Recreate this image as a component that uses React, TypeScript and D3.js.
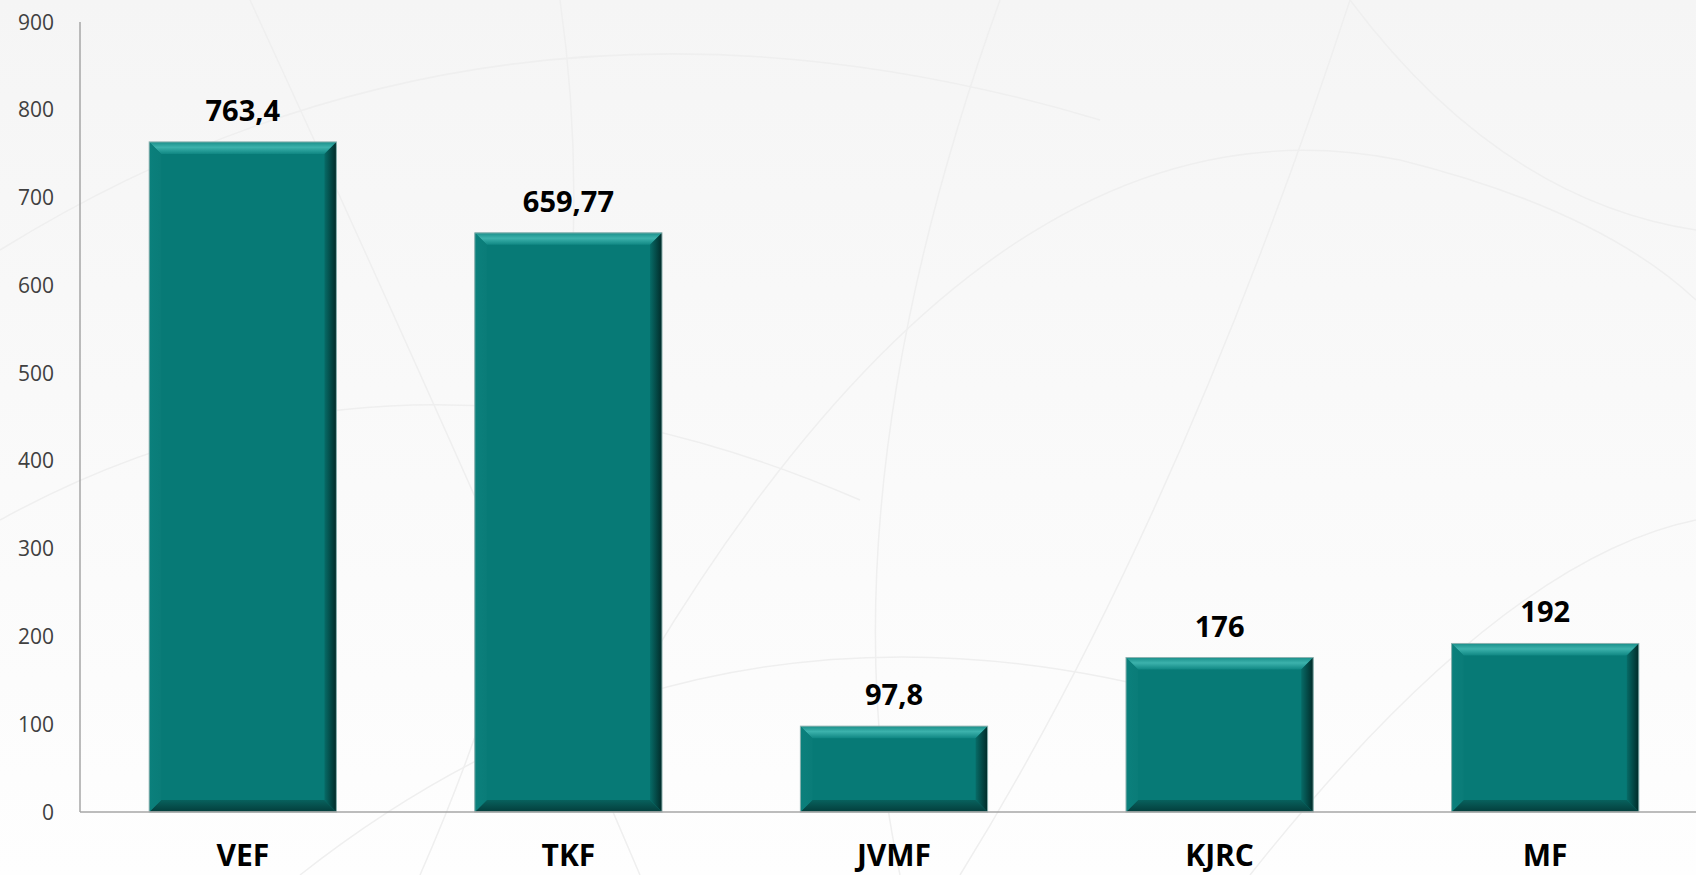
import React from 'react';
import * as d3 from 'd3';

const categories = ['VEF', 'TKF', 'JVMF', 'KJRC', 'MF'];
const values = [763.4, 659.77, 97.8, 176, 192];
const valueLabels = ['763,4', '659,77', '97,8', '176', '192'];
const yTicks = [0, 100, 200, 300, 400, 500, 600, 700, 800, 900];

const W = 1696;
const H = 875;
const BEVEL = 12;

// faint decorative arcs in the slide background
const bgArcs = [
  'M 0 250 Q 500 -60 1100 120',
  'M 250 0 Q 480 500 640 875',
  'M 560 0 Q 620 420 420 875',
  'M 1000 0 Q 820 500 900 875',
  'M 1350 0 Q 1180 520 960 875',
  'M 650 660 Q 1000 80 1400 160 Q 1600 210 1696 300',
  'M 1350 0 Q 1500 200 1696 230',
  'M 0 520 Q 400 300 860 500',
  'M 300 875 Q 700 560 1200 700',
  'M 1250 875 Q 1500 560 1696 520',
];

const App = () => {
  const x = d3
    .scaleBand<string>()
    .domain(categories)
    .range([80, 1708])
    .paddingInner(0.425)
    .paddingOuter(0.2125);
  const y = d3.scaleLinear().domain([0, 900]).range([812, 22]);
  const bw = x.bandwidth();
  const font = '"Open Sans", "Noto Sans", sans-serif';

  return (
    <svg
      width={W}
      height={H}
      style={{ position: 'absolute', left: 0, top: 0 }}
      fontFamily={font}
    >
      <defs>
        <linearGradient id="bg" x1="0" y1="0" x2="0" y2="1">
          <stop offset="0" stopColor="#f5f5f5" />
          <stop offset="1" stopColor="#fefefe" />
        </linearGradient>
        <linearGradient id="bvTop" x1="0" y1="0" x2="0" y2="1">
          <stop offset="0" stopColor="#1a8f8a" />
          <stop offset="0.45" stopColor="#3cb2ac" />
          <stop offset="1" stopColor="#108783" />
        </linearGradient>
        <linearGradient id="bvRight" x1="0" y1="0" x2="1" y2="0">
          <stop offset="0" stopColor="#076b67" />
          <stop offset="1" stopColor="#012a28" />
        </linearGradient>
        <linearGradient id="bvBottom" x1="0" y1="0" x2="0" y2="1">
          <stop offset="0" stopColor="#08615d" />
          <stop offset="1" stopColor="#033d3b" />
        </linearGradient>
        <linearGradient id="bvLeft" x1="0" y1="0" x2="1" y2="0">
          <stop offset="0" stopColor="#0b807c" />
          <stop offset="1" stopColor="#0a7c78" />
        </linearGradient>
      </defs>
      <rect x={0} y={0} width={W} height={H} fill="url(#bg)" />
      {bgArcs.map((d, i) => (
        <path key={i} d={d} fill="none" stroke="#efefef" strokeWidth={1.5} />
      ))}

      {yTicks.map(t => (
        <text
          key={t}
          x={54}
          y={y(t)}
          dy="0.36em"
          textAnchor="end"
          fontSize={21}
          fill="#404040"
        >
          {t}
        </text>
      ))}

      {categories.map((c, i) => {
        const x0 = x(c)!;
        const x1 = x0 + bw;
        const y0 = y(values[i]);
        const y1 = y(0);
        const b = Math.min(BEVEL, (y1 - y0) / 2);
        return (
          <g key={c}>
            <rect x={x0} y={y0} width={bw} height={y1 - y0} fill="#077a76" />
            <polygon
              points={`${x0},${y0} ${x1},${y0} ${x1 - b},${y0 + b} ${x0 + b},${y0 + b}`}
              fill="url(#bvTop)"
            />
            <polygon
              points={`${x1},${y0} ${x1},${y1} ${x1 - b},${y1 - b} ${x1 - b},${y0 + b}`}
              fill="url(#bvRight)"
            />
            <polygon
              points={`${x0},${y1} ${x1},${y1} ${x1 - b},${y1 - b} ${x0 + b},${y1 - b}`}
              fill="url(#bvBottom)"
            />
            <polygon
              points={`${x0},${y0} ${x0 + b},${y0 + b} ${x0 + b},${y1 - b} ${x0},${y1}`}
              fill="url(#bvLeft)"
            />
            <rect
              x={x0}
              y={y0}
              width={bw}
              height={y1 - y0}
              fill="none"
              stroke="#8fb3b1"
              strokeWidth={1}
            />
            <text
              x={x0 + bw / 2}
              y={y0 - 21}
              textAnchor="middle"
              fontSize={29}
              fontWeight="bold"
              fill="#000"
            >
              {valueLabels[i]}
            </text>
            <text
              x={x0 + bw / 2}
              y={866}
              textAnchor="middle"
              fontSize={30}
              fontWeight="bold"
              fill="#000"
            >
              {c}
            </text>
          </g>
        );
      })}

      <line x1={80} y1={22} x2={80} y2={812} stroke="#a6a6a6" strokeWidth={1.5} />
      <line x1={80} y1={812} x2={W} y2={812} stroke="#a6a6a6" strokeWidth={1.5} />
    </svg>
  );
};

export default App;
